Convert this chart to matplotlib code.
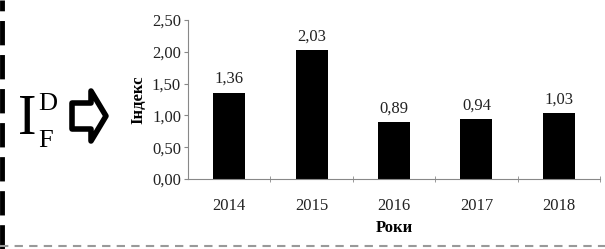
import matplotlib.pyplot as plt
from matplotlib.patches import Polygon
from matplotlib.lines import Line2D

years = ["2014", "2015", "2016", "2017", "2018"]
values = [1.36, 2.03, 0.89, 0.94, 1.03]
yticks = [0.0, 0.5, 1.0, 1.5, 2.0, 2.5]

plt.rcParams['font.family'] = ['Liberation Serif', 'DejaVu Serif']

fig = plt.figure(figsize=(6.05, 2.49), dpi=100)
ax = fig.add_axes([0.3107, 0.2811, 0.681, 0.6386])

x = range(len(years))
ax.bar(x, values, width=0.39, color="black")
for i, v in zip(x, values):
    ax.text(i, v + 0.09, f"{v:.2f}".replace(".", ","), ha="center", va="bottom",
            fontsize=12, color="#222222")

ax.set_xlim(-0.5, len(years) - 0.5)
ax.set_ylim(0, 2.5)
ax.set_yticks(yticks)
ax.set_yticklabels([f"{t:.2f}".replace(".", ",") for t in yticks], fontsize=12, color="#222222")
ax.set_xticks(list(x))
ax.set_xticklabels(years, fontsize=12, color="#222222")
ax.set_xticks([i + 0.5 for i in range(len(years))], minor=True)
ax.tick_params(axis="x", which="major", length=0, pad=14)
ax.tick_params(axis="x", which="minor", length=4, direction="inout", color="#888888")
ax.tick_params(axis="y", length=3, color="#888888", pad=2)
for s in ["top", "right"]:
    ax.spines[s].set_visible(False)
for s in ["left", "bottom"]:
    ax.spines[s].set_color("#888888")
ax.set_ylabel("Індекс", fontsize=12, fontweight="bold", labelpad=4)
ax.set_xlabel("Роки", fontsize=12, fontweight="bold", labelpad=4)

# left label I_F^D and arrow
fig.text(18 / 605, 1 - 134 / 249, "I", fontsize=40, ha="left", va="baseline")
fig.text(38 / 605, 1 - 110 / 249, "D", fontsize=19, ha="left", va="baseline")
fig.text(38 / 605, 1 - 147 / 249, "F", fontsize=19, ha="left", va="baseline")
arrow = [(72, 103), (91, 103), (91, 91), (106, 116), (91, 141), (91, 129), (72, 129)]
fig.patches.append(Polygon([(px / 605, 1 - py / 249) for px, py in arrow], closed=True,
                           facecolor="white", edgecolor="black", linewidth=4,
                           joinstyle="round", transform=fig.transFigure))

# dashed border pieces
fig.lines.append(Line2D([2 / 605, 2 / 605], [0, 1], transform=fig.transFigure,
                        color="black", linewidth=3.5, linestyle=(0, (5, 2))))
fig.lines.append(Line2D([0, 1], [1 - 246 / 249, 1 - 246 / 249], transform=fig.transFigure,
                        color="#999999", linewidth=1.5, linestyle=(0, (4, 3))))

fig.savefig("out.png", dpi=100)
